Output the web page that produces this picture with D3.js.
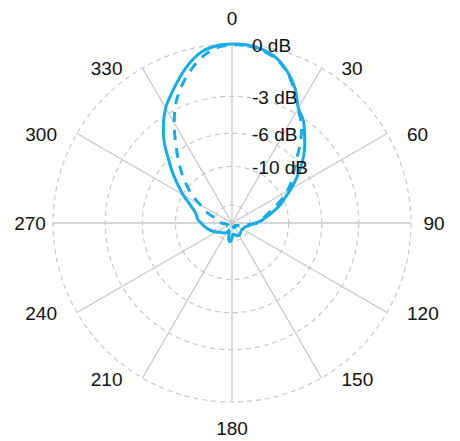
<!DOCTYPE html>
<html>
<head>
<meta charset="utf-8">
<script src="https://cdn.jsdelivr.net/npm/d3@7"></script>
<style>
  html, body { margin: 0; padding: 0; background: #fff; }
  svg { display: block; }
  text { font-family: "Liberation Sans", Arial, sans-serif; fill: #111; }
</style>
</head>
<body>
<svg id="chart" width="460" height="441"></svg>
<script>
// Azimuth samples (degrees, clockwise from the top)
const angles = d3.range(0, 360, 5);

// Measured pattern, solid trace (dB)
const solidDb = [
  0, -0.02, -0.15, -0.4, -0.9, -1.6, -2.6, -3.15, -4.0, -4.85, -5.9, -7.1,
  -8.4, -9.8, -11.0, -12.6, -14.2, -15.5, -17.5, -19.5, -20.8, -22.0, -22.6, -23.0,
  -23.3, -23.4, -23.4, -23.2, -22.8, -22.3, -22.0, -22.1, -22.6, -23.2, -23.8, -24.0,
  -21.5, -19.6, -20.0, -23.5, -27.0, -25.4, -24.2, -23.5, -22.8, -22.2, -21.8, -20.8,
  -20.0, -19.0, -18.2, -17.3, -16.6, -15.9, -15.3, -14.4, -14.0, -13.6, -12.7, -11.5,
  -10.0, -8.7, -7.3, -6.0, -4.6, -3.5, -2.6, -1.95, -1.3, -0.7, -0.25, -0.05
];

// Measured pattern, dashed trace (dB)
const dashedDb = [
  -0.05, -0.05, -0.2, -0.45, -0.95, -1.7, -2.65, -3.4, -4.5, -5.8, -6.9, -7.8,
  -9.0, -10.4, -12.0, -13.5, -14.8, -15.8, -17.0, -20.5, -23.5, -26.0, -28.0, -30.0,
  -31.0, -32.0, -33.0, -32.0, -31.0, -30.5, -31.0, -32.0, -33.0, -32.0, -31.0, -30.0,
  -31.0, -32.0, -33.0, -32.0, -31.0, -30.0, -31.0, -32.0, -33.0, -32.0, -31.0, -30.5,
  -31.0, -32.0, -31.0, -30.5, -30.0, -27.0, -24.5, -22.5, -22.3, -21.5, -17.8, -15.6,
  -13.7, -11.3, -9.6, -8.0, -6.6, -5.2, -3.8, -2.6, -1.75, -1.05, -0.5, -0.15
];

// Radial rings (dB) and their labels
const ringDb = [0, -3, -6, -10, -20];
const ringLabels = ["0 dB", "-3 dB", "-6 dB", "-10 dB", ""];

// Angular spokes and labels
const spokeAngles = d3.range(0, 360, 30);
const spokeLabels = spokeAngles.map(String);

const cx = 232, cy = 223, R = 179;
const colour = "#16ace6";
const grid = "#c9c9c9";
const fontSize = 19;

const svg = d3.select("#chart");
const g = svg.append("g").attr("transform", `translate(${cx},${cy})`);

// dB -> linear amplitude -> radius
const rScale = d3.scaleLinear().domain([0, 1]).range([0, R]);
const radius = db => rScale(Math.pow(10, db / 20));
const aScale = d3.scaleLinear().domain([0, 360]).range([0, 2 * Math.PI]);

// Rings
g.selectAll("circle.ring")
  .data(ringDb)
  .join("circle")
  .attr("class", "ring")
  .attr("r", d => radius(d))
  .attr("fill", "none")
  .attr("stroke", grid)
  .attr("stroke-width", 1.2)
  .attr("stroke-dasharray", "5,4");

// Spokes
g.selectAll("line.spoke")
  .data(spokeAngles)
  .join("line")
  .attr("class", "spoke")
  .attr("x1", 0).attr("y1", 0)
  .attr("x2", d => R * Math.sin(aScale(d)))
  .attr("y2", d => -R * Math.cos(aScale(d)))
  .attr("stroke", grid)
  .attr("stroke-width", 1.3);

// Traces
const radial = d3.lineRadial()
  .angle(d => aScale(d[0]))
  .radius(d => radius(d[1]))
  .curve(d3.curveCatmullRomClosed.alpha(0.5));

g.append("path")
  .datum(angles.map((a, i) => [a, dashedDb[i]]))
  .attr("d", radial)
  .attr("fill", "none")
  .attr("stroke", colour)
  .attr("stroke-width", 3)
  .attr("stroke-dasharray", "10,8")
  .attr("stroke-linejoin", "round");

g.append("path")
  .datum(angles.map((a, i) => [a, solidDb[i]]))
  .attr("d", radial)
  .attr("fill", "none")
  .attr("stroke", colour)
  .attr("stroke-width", 3)
  .attr("stroke-linejoin", "round");

// Ring labels
g.selectAll("text.ringlab")
  .data(ringDb.map((d, i) => ({ db: d, label: ringLabels[i] })).filter(d => d.label))
  .join("text")
  .attr("class", "ringlab")
  .attr("x", 20)
  .attr("y", d => -radius(d.db) + 1.5)
  .attr("dominant-baseline", "central")
  .attr("font-size", fontSize)
  .text(d => d.label);

// Angle labels: on-axis labels sit beyond the rim, the others beside the spoke end
g.selectAll("text.anglab")
  .data(spokeAngles.map((a, i) => ({ a, label: spokeLabels[i] })))
  .join("text")
  .attr("class", "anglab")
  .attr("font-size", fontSize)
  .attr("dominant-baseline", "central")
  .each(function (d) {
    const s = Math.sin(aScale(d.a)), c = Math.cos(aScale(d.a));
    const t = d3.select(this);
    if (d.a % 90 === 0) {
      t.attr("text-anchor", "middle")
       .attr("x", 202 * s)
       .attr("y", -205 * c);
    } else {
      t.attr("text-anchor", s > 0 ? "start" : "end")
       .attr("x", R * s + (s > 0 ? 20 : -20))
       .attr("y", -R * c + 1);
    }
  })
  .text(d => d.label);
</script>
</body>
</html>
